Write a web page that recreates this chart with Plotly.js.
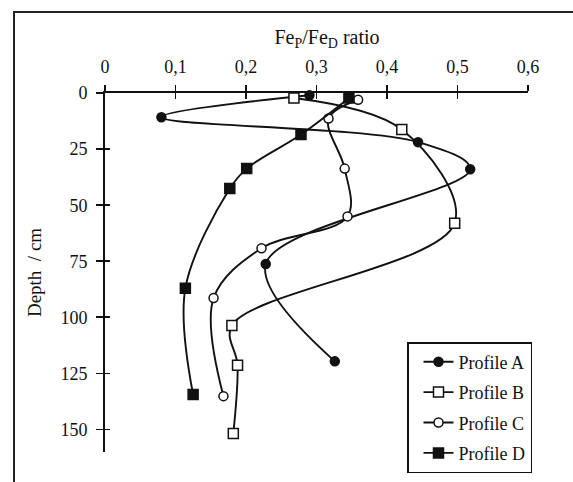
<!DOCTYPE html>
<html>
<head>
<meta charset="utf-8">
<script src="https://cdn.plot.ly/plotly-3.0.1.min.js"></script>
<style>
  html, body { margin: 0; padding: 0; background: #fff; }
  #wrap { position: relative; width: 573px; height: 482px; overflow: hidden; }
  #chart { position: absolute; left: 0; top: 0; width: 573px; height: 482px; }
  #frame { position: absolute; left: 13px; top: 11px; width: 600px; height: 500px;
           border-left: 2px solid #222; border-top: 2px solid #222; pointer-events: none; }
</style>
</head>
<body>
<div id="wrap">
  <div id="chart"></div>
  <div id="frame"></div>
</div>
<script>
// ---- data ----
const profileNames = ["Profile A", "Profile B", "Profile C", "Profile D"];

const ratioA = [0.29, 0.08, 0.444, 0.518, 0.228, 0.326];
const depthA = [1, 10.8, 21.9, 34, 76.2, 119.6];

const ratioB = [0.268, 0.421, 0.496, 0.180, 0.188, 0.182];
const depthB = [2.2, 16.3, 58, 103.6, 121.3, 151.7];

const ratioC = [0.359, 0.317, 0.340, 0.344, 0.222, 0.154, 0.168];
const depthC = [3, 11.4, 33.7, 55, 69.2, 91.4, 135.1];

const ratioD = [0.346, 0.278, 0.201, 0.177, 0.114, 0.125];
const depthD = [2.2, 18.5, 33.7, 42.6, 87, 134.4];

const xTicks = [0, 0.1, 0.2, 0.3, 0.4, 0.5, 0.6];
const yTicks = [0, 25, 50, 75, 100, 125, 150];

// ---- styling ----
const FONT = "Liberation Serif, Times New Roman, serif";
const INK = "#111";

function trace(name, x, y, symbol, fill, size, group) {
  return {
    type: "scatter", mode: "lines+markers", name: name,
    x: x, y: y, xaxis: "x", yaxis: "y",
    legendgroup: group,
    line: { color: INK, width: 1.9, shape: "spline", smoothing: 1 },
    marker: { symbol: symbol, size: size, color: fill,
              line: { color: INK, width: 1.5 } },
    cliponaxis: false
  };
}

const data = [
  trace(profileNames[0], ratioA, depthA, "circle", INK, 9, "a"),
  trace(profileNames[1], ratioB, depthB, "square", "#fff", 10, "b"),
  trace(profileNames[2], ratioC, depthC, "circle", "#fff", 9, "c"),
  trace(profileNames[3], ratioD, depthD, "square", INK, 10, "d"),
  // companion axes (inside ticks) to make crossing tick marks
  { type: "scatter", x: [], y: [], xaxis: "x2", yaxis: "y2", showlegend: false, hoverinfo: "skip" }
];

const axisCommon = {
  showgrid: false, zeroline: false, showline: true, automargin: false,
  linecolor: INK, linewidth: 2, tickcolor: INK, tickwidth: 1.8,
  tickfont: { family: FONT, size: 18, color: INK }
};

const layout = {
  width: 573, height: 482,
  margin: { l: 105, r: 45, t: 93, b: 30, pad: 0, autoexpand: false },
  paper_bgcolor: "rgba(0,0,0,0)", plot_bgcolor: "rgba(0,0,0,0)",
  separators: ", ",
  font: { family: FONT, size: 18, color: INK },
  showlegend: true,
  title: {
    text: "Fe<sub>P</sub>/Fe<sub>D</sub> ratio",
    font: { family: FONT, size: 20, color: INK },
    xref: "container", yref: "container",
    x: 327 / 573, xanchor: "center",
    y: 1 - 37 / 482, yanchor: "middle"
  },
  xaxis: Object.assign({}, axisCommon, {
    side: "top", range: [0, 0.6], tickmode: "array", tickvals: xTicks,
    ticks: "outside", ticklen: 6, anchor: "y", ticklabelstandoff: 5
  }),
  yaxis: Object.assign({}, axisCommon, {
    range: [160, 0], tickmode: "array", tickvals: yTicks,
    ticks: "outside", ticklen: 7, anchor: "x", ticklabelstandoff: 5,
    title: { text: "Depth  / cm", font: { family: FONT, size: 19, color: INK }, standoff: 14 }
  }),
  xaxis2: Object.assign({}, axisCommon, {
    side: "top", overlaying: "x", matches: "x", range: [0, 0.6], tickmode: "array", tickvals: xTicks,
    ticks: "inside", ticklen: 6, showticklabels: false, anchor: "y2"
  }),
  yaxis2: Object.assign({}, axisCommon, {
    overlaying: "y", matches: "y", range: [160, 0], tickmode: "array", tickvals: yTicks,
    ticks: "inside", ticklen: 5, showticklabels: false, anchor: "x2"
  }),
  legend: {
    x: (407 - 105) / 423, xanchor: "left",
    y: (452 - 342) / 359, yanchor: "top",
    bordercolor: INK, borderwidth: 1.5, bgcolor: "#fff",
    font: { family: FONT, size: 18, color: INK },
    traceorder: "grouped", tracegroupgap: 4, indentation: 10,
    itemwidth: 30
  }
};

Plotly.newPlot("chart", data, layout, { displayModeBar: false, staticPlot: true });
</script>
</body>
</html>
